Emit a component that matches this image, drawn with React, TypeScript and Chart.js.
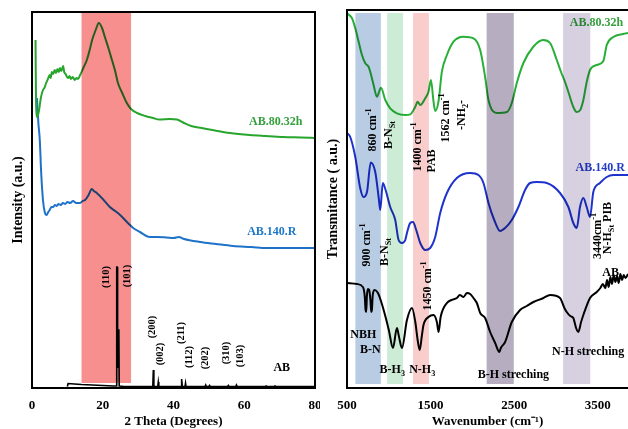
import React, { useEffect, useRef } from 'react';
import { Chart, registerables } from 'chart.js';
Chart.register(...registerables);

type Pt = [number, number];
type Seg = [string, number]; // 0 normal, 1 superscript, -1 subscript
type Note = { segs: Seg[]; x: number; y: number; rot?: boolean; color?: string; size?: number };

const FONT = "'Liberation Serif', 'Times New Roman', Times, serif";

// ---------------- XRD (left panel) ----------------
const xrdTicks = [0, 20, 40, 60, 80];
const xrdAB80: Pt[] = [
  [1.0, 348], [1.05, 320], [1.15, 285], [1.3, 271], [1.6, 272], [2.0, 278], [2.5, 290], [3.1, 298], [3.5, 300],
  [4.0, 305], [4.5, 309], [5.0, 313], [5.3, 310], [5.6, 316], [6.0, 314], [6.4, 318], [6.8, 315], [7.2, 319],
  [7.6, 316], [7.9, 320], [8.3, 317], [8.8, 322], [9.1, 316], [9.5, 314], [9.9, 311], [10.2, 310], [10.6, 312],
  [11.0, 309], [11.5, 311], [12.1, 308], [12.6, 310], [13.0, 309], [13.6, 313], [14.5, 320], [15.5, 328],
  [16.3, 338], [17.0, 348], [18.0, 358], [18.9, 365], [19.8, 360], [20.6, 351], [21.6, 340], [22.6, 328],
  [23.5, 317], [24.3, 305], [25.5, 295], [26.8, 285], [28, 279], [29.7, 275], [32, 272], [34.2, 270], [36, 268.5],
  [39, 269], [41, 268.5], [43, 265], [45, 262], [48, 260], [51, 258], [56, 255], [61.6, 253], [66, 252], [71, 251],
  [76, 250.5], [80, 250],
];
const xrdAB140: Pt[] = [
  [1.4, 290], [1.8, 265], [2.2, 248], [2.6, 215], [3.1, 188], [3.6, 176], [4.1, 173], [4.6, 176], [5, 178],
  [5.5, 181], [6, 181], [6.5, 183], [7, 182], [7.5, 184], [8.1, 183], [8.8, 185], [9.4, 184], [10, 186],
  [10.8, 185], [11.6, 187], [12.5, 185], [13.6, 185], [14.3, 187], [15, 188], [16, 193], [16.9, 199], [17.5, 197],
  [18.3, 195], [20, 189], [22, 181], [23.5, 177], [24.9, 173], [26.3, 168], [27.7, 163], [28.6, 160], [30.5, 156],
  [33.3, 151], [35.3, 151], [38, 150.5], [40, 150], [41.5, 151], [43, 149], [47.5, 146], [52, 144], [56.8, 142],
  [62, 141], [66.4, 140], [72, 140], [80, 140],
];
const xrdAB: Pt[] = [
  [10.0, 1.5], [10.2, 4.5], [12, 4], [14, 3.5], [17, 3], [20, 2.5], [23, 2], [23.85, 2], [23.95, 121], [24.05, 121],
  [24.15, 20], [24.25, 58], [24.55, 58], [24.65, 2], [26, 1.5], [34.15, 1.5], [34.3, 18], [34.45, 1.5], [35.55, 1.5],
  [35.7, 6], [35.85, 1.5], [42.15, 1.5], [42.3, 9], [42.5, 1.5], [43.25, 1.5], [43.4, 5], [43.55, 1.5], [48.9, 1.5],
  [49.1, 3], [49.3, 1.5], [50.0, 1.5], [50.2, 2.5], [50.4, 1.5], [55.3, 1.5], [55.5, 2.5], [55.7, 1.5], [57.6, 1.5],
  [57.8, 3], [58, 1.5], [66, 1.5], [66.2, 2], [66.4, 1.5], [68.5, 1.5], [68.7, 2], [68.9, 1.5], [80, 1.5],
];
const xrdBands: [number, number, string][] = [[14, 28, 'rgb(247,143,143)']];
const xrdBandY: Pt = [5, 376];
const xrdNotes: Note[] = [
  { segs: [['(110)', 0]], x: 20.9, y: 111, rot: true },
  { segs: [['(101)', 0]], x: 26.8, y: 112, rot: true },
  { segs: [['(200)', 0]], x: 33.9, y: 61, rot: true },
  { segs: [['(002)', 0]], x: 36.4, y: 34, rot: true },
  { segs: [['(211)', 0]], x: 42.1, y: 55, rot: true },
  { segs: [['(112)', 0]], x: 44.4, y: 31, rot: true },
  { segs: [['(202)', 0]], x: 48.9, y: 30, rot: true },
  { segs: [['(310)', 0]], x: 54.8, y: 35, rot: true },
  { segs: [['(103)', 0]], x: 58.8, y: 32, rot: true },
  { segs: [['AB', 0]], x: 70.6, y: 20, size: 12 },
  { segs: [['AB.80.32h', 0]], x: 68.9, y: 266, color: 'rgb(52,160,60)', size: 12 },
  { segs: [['AB.140.R', 0]], x: 67.8, y: 156, color: 'rgb(30,120,200)', size: 12 },
];

// ---------------- FTIR (right panel) ----------------
const ftirTicks = [500, 1500, 2500, 3500];
const ftirAB80: Pt[] = [
  [500, 374.7], [560, 369.7], [599, 359.7], [639, 346.3], [679, 333], [719, 324.7], [758, 321.3], [778, 316.3],
  [818, 303], [858, 291.3], [906, 300.3], [958, 288], [1017, 279.7], [1097, 274.7], [1197, 273], [1257, 273.7],
  [1317, 281.3], [1344, 286.3], [1376, 283], [1436, 289.7], [1475, 296.3], [1504, 308], [1535, 286.3], [1555, 277],
  [1594, 286.3], [1635, 316.3], [1695, 333], [1774, 346.3], [1893, 351.3], [2013, 349.7], [2093, 338], [2152, 311],
  [2192, 288], [2292, 275], [2412, 276], [2471, 285], [2531, 305], [2610, 325], [2726, 341], [2845, 348],
  [2929, 345], [3009, 328], [3060, 316], [3108, 306], [3148, 296], [3207, 281], [3248, 276], [3290, 278],
  [3327, 288], [3367, 306], [3407, 318], [3487, 323], [3566, 327], [3607, 343], [3686, 351], [3805, 354], [3861, 355],
];
const ftirAB140: Pt[] = [
  [500, 255], [539, 251], [599, 231], [659, 199.5], [698, 191], [739, 196], [784, 225.5], [838, 216], [878, 191],
  [898, 178], [928, 205], [958, 199], [1017, 181], [1077, 168], [1117, 148], [1157, 145], [1197, 148], [1217, 155],
  [1256, 165], [1289, 166], [1328, 158], [1376, 145], [1436, 138], [1495, 140], [1555, 151], [1615, 175],
  [1695, 195], [1814, 210], [1973, 215], [2072, 213], [2132, 205], [2192, 185], [2252, 170], [2332, 157],
  [2391, 160], [2471, 168], [2550, 181], [2630, 198], [2690, 205], [2770, 206], [2889, 205], [3048, 195],
  [3148, 181], [3207, 165], [3248, 160], [3287, 181], [3327, 190], [3367, 181], [3407, 171], [3446, 196],
  [3526, 205], [3606, 211], [3686, 213], [3845, 213], [3861, 213],
];
const ftirAB: Pt[] = [
  [500, 105], [618, 104], [690, 101], [712, 92], [722, 78], [730, 76], [738, 92], [750, 99], [765, 98], [780, 88],
  [790, 76], [798, 78], [808, 93], [830, 98], [870, 95], [910, 86], [958, 72], [1000, 58], [1050, 40], [1097, 60],
  [1120, 52], [1157, 40], [1217, 68], [1277, 80], [1317, 66], [1345, 48], [1370, 38], [1395, 52], [1415, 63],
  [1475, 71], [1535, 73], [1575, 66], [1595, 56], [1620, 71], [1695, 85], [1750, 88], [1814, 90], [1850, 93],
  [1893, 91], [1935, 95], [1973, 94], [2013, 90], [2053, 85], [2093, 75], [2152, 70], [2212, 56], [2272, 45],
  [2323, 36], [2340, 40], [2391, 46], [2471, 66], [2570, 78], [2650, 82], [2730, 86], [2850, 90], [2929, 93],
  [3048, 90], [3100, 80], [3128, 76], [3170, 72], [3207, 70], [3240, 60], [3267, 56], [3300, 66], [3327, 73],
  [3407, 90], [3487, 96], [3530, 100], [3560, 104], [3590, 100], [3610, 108], [3630, 101], [3650, 111], [3670, 104],
  [3690, 113], [3710, 106], [3730, 112], [3750, 105], [3770, 114], [3790, 108], [3810, 113], [3830, 110], [3861, 114],
];
const ftirBands: [number, number, string][] = [
  [600, 905, 'rgb(184,204,228)'],
  [980, 1170, 'rgb(204,236,214)'],
  [1290, 1480, 'rgb(250,205,205)'],
  [2170, 2495, 'rgb(182,174,192)'],
  [3085, 3410, 'rgb(214,208,224)'],
];
const ftirBandY: Pt = [4, 375];
const ftirNotes: Note[] = [
  { segs: [['860 cm', 0], ['-1', 1]], x: 814, y: 258, rot: true },
  { segs: [['B-N', 0], ['St', -1]], x: 1005, y: 253, rot: true },
  { segs: [['1400 cm', 0], ['-1', 1]], x: 1352, y: 241, rot: true },
  { segs: [['PAB', 0]], x: 1519, y: 227, rot: true },
  { segs: [['1562 cm', 0], ['-1', 1]], x: 1686, y: 270, rot: true },
  { segs: [['-NH', 0], ['2', -1], ['-', 0]], x: 1877, y: 273, rot: true },
  { segs: [['900 cm', 0], ['-1', 1]], x: 743, y: 143, rot: true },
  { segs: [['B-N', 0], ['St', -1]], x: 958, y: 136, rot: true },
  { segs: [['1450 cm', 0], ['-1', 1]], x: 1471, y: 102, rot: true },
  { segs: [['3440cm', 0], ['-1', 1]], x: 3502, y: 152, rot: true },
  { segs: [['N-H', 0], ['St', -1], [' PIB', 0]], x: 3621, y: 160, rot: true },
  { segs: [['NBH', 0]], x: 695, y: 53 },
  { segs: [['B-N', 0]], x: 779, y: 38 },
  { segs: [['B-H', 0], ['3', -1]], x: 1042, y: 18 },
  { segs: [['N-H', 0], ['3', -1]], x: 1400, y: 18 },
  { segs: [['B-H streching', 0]], x: 2490, y: 13 },
  { segs: [['N-H streching', 0]], x: 3384, y: 36 },
  { segs: [['AB', 0]], x: 3654, y: 115 },
  { segs: [['AB.80.32h', 0]], x: 3484, y: 365, color: 'rgb(52,160,60)' },
  { segs: [['AB.140.R', 0]], x: 3528, y: 220, color: 'rgb(35,60,200)' },
];

// ---------------- drawing helpers ----------------
function drawRich(ctx: CanvasRenderingContext2D, segs: Seg[], x: number, y: number, size: number, rot: boolean, color: string) {
  ctx.save();
  ctx.translate(x, y);
  if (rot) ctx.rotate(-Math.PI / 2);
  const f = (k: number) => `bold ${k ? size * 0.68 : size}px ${FONT}`;
  let total = 0;
  const widths = segs.map(([t, k]) => {
    ctx.font = f(k);
    const w = ctx.measureText(t).width;
    total += w;
    return w;
  });
  let cx = -total / 2;
  ctx.fillStyle = color;
  ctx.textBaseline = 'middle';
  ctx.textAlign = 'left';
  segs.forEach(([t, k], i) => {
    ctx.font = f(k);
    const dy = k === 1 ? -size * 0.35 : k === -1 ? size * 0.3 : 0;
    ctx.fillText(t, cx, dy);
    cx += widths[i];
  });
  ctx.restore();
}

function panelPlugin(bands: [number, number, string][], bandY: Pt, notes: Note[], defSize: number, fullBox: boolean) {
  return {
    id: 'panelDeco',
    beforeDraw(chart: any) {
      const ctx = chart.ctx;
      ctx.save();
      ctx.fillStyle = '#fff';
      ctx.fillRect(0, 0, chart.width, chart.height);
      ctx.restore();
    },
    afterDatasetsDraw(chart: any) {
      const ctx = chart.ctx;
      const xs = chart.scales.x, ys = chart.scales.y;
      notes.forEach((n) => {
        drawRich(ctx, n.segs, xs.getPixelForValue(n.x), ys.getPixelForValue(n.y), n.size || defSize, !!n.rot, n.color || '#000');
      });
    },
    afterDraw(chart: any) {
      const ctx = chart.ctx;
      const xs = chart.scales.x, ys = chart.scales.y;
      const ca = chart.chartArea;
      ctx.save();
      ctx.globalCompositeOperation = 'multiply';
      bands.forEach(([a, b, c]) => {
        const x1 = xs.getPixelForValue(a), x2 = xs.getPixelForValue(b);
        const y1 = ys.getPixelForValue(bandY[1]), y2 = ys.getPixelForValue(bandY[0]);
        ctx.fillStyle = c;
        ctx.fillRect(x1, y1, x2 - x1, y2 - y1);
      });
      ctx.restore();
      ctx.save();
      ctx.strokeStyle = '#000';
      ctx.lineWidth = 2;
      if (fullBox) {
        ctx.strokeRect(ca.left, ca.top, ca.right - ca.left, ca.bottom - ca.top);
      } else {
        ctx.beginPath();
        ctx.moveTo(chart.width, ca.top);
        ctx.lineTo(ca.left, ca.top);
        ctx.lineTo(ca.left, ca.bottom);
        ctx.lineTo(chart.width, ca.bottom);
        ctx.stroke();
      }
      ctx.restore();
    },
  };
}

const toXY = (pts: Pt[]) => pts.map(([x, y]) => ({ x, y }));

function line(pts: Pt[], color: string, width: number, smooth: boolean) {
  return {
    data: toXY(pts),
    borderColor: color,
    borderWidth: width,
    pointRadius: 0,
    fill: false,
    tension: smooth ? 0.4 : 0,
    cubicInterpolationMode: smooth ? 'monotone' : 'default',
  };
}

function xAxis(min: number, max: number, ticks: number[], title: string) {
  return {
    type: 'linear',
    min,
    max,
    afterBuildTicks: (s: any) => {
      s.ticks = ticks.map((v) => ({ value: v }));
    },
    afterFit: (s: any) => {
      s.height = 41;
      s.paddingLeft = 0;
      s.paddingRight = 0;
    },
    grid: { display: false },
    border: { display: false },
    ticks: {
      color: '#000',
      font: { family: FONT, size: 13, weight: 'bold' },
      padding: 2,
      maxRotation: 0,
      autoSkip: false,
      callback: (v: any) => String(v),
    },
    title: { display: true, text: title, color: '#000', font: { family: FONT, size: 13, weight: 'bold' }, padding: { top: 0, bottom: 0 } },
  };
}

function yAxis(max: number, width: number, title: string, pad: number) {
  return {
    type: 'linear',
    min: 0,
    max,
    afterFit: (s: any) => {
      s.width = width;
      s.paddingTop = 0;
      s.paddingBottom = 0;
    },
    grid: { display: false },
    border: { display: false },
    ticks: { display: false },
    title: { display: true, text: title, color: '#000', font: { family: FONT, size: 14, weight: 'bold' }, padding: { top: pad, bottom: 0 } },
  };
}

function xrdConfig(): any {
  return {
    type: 'line',
    data: {
      datasets: [
        line(xrdAB80, 'rgb(40,165,45)', 2, true),
        line(xrdAB140, 'rgb(30,115,200)', 2, true),
        line(xrdAB, '#000', 1.6, false),
      ],
    },
    options: {
      animation: false,
      responsive: false,
      events: [],
      layout: { padding: { top: 12, right: 5, left: 0, bottom: 0 } },
      plugins: { legend: { display: false }, tooltip: { enabled: false } },
      scales: {
        x: xAxis(0, 80, xrdTicks, '2 Theta (Degrees)'),
        y: yAxis(376, 32, 'Intensity (a.u.)', 9.6),
      },
    },
    plugins: [panelPlugin(xrdBands, xrdBandY, xrdNotes, 10.5, true)],
  };
}

function ftirConfig(): any {
  return {
    type: 'line',
    data: {
      datasets: [
        line(ftirAB80, 'rgb(40,175,55)', 2, true),
        line(ftirAB140, 'rgb(30,50,205)', 2, true),
        line(ftirAB, '#000', 2, true),
      ],
    },
    options: {
      animation: false,
      responsive: false,
      events: [],
      layout: { padding: { top: 10, right: 0, left: 0, bottom: 0 } },
      plugins: { legend: { display: false }, tooltip: { enabled: false } },
      scales: {
        x: xAxis(500, 3861, ftirTicks, 'Wavenumber (cm\u207B\u00B9)'),
        y: yAxis(378, 27, 'Transmitance ( a.u.)', 4.6),
      },
    },
    plugins: [panelPlugin(ftirBands, ftirBandY, ftirNotes, 12, false)],
  };
}

function Panel({ make, left, width }: { make: () => any; left: number; width: number }) {
  const ref = useRef<HTMLCanvasElement>(null);
  useEffect(() => {
    const chart = new Chart(ref.current as HTMLCanvasElement, make());
    return () => chart.destroy();
  }, []);
  return (
    <canvas
      ref={ref}
      width={width}
      height={429}
      style={{ position: 'absolute', left, top: 0, width, height: 429, display: 'block' }}
    />
  );
}

export default function App() {
  return (
    <div style={{ position: 'fixed', left: 0, top: 0, width: 628, height: 429, background: '#fff', overflow: 'hidden' }}>
      <Panel make={xrdConfig} left={0} width={320} />
      <Panel make={ftirConfig} left={320} width={308} />
    </div>
  );
}
